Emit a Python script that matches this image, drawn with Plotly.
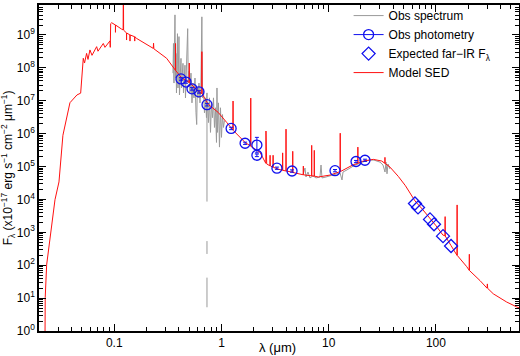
import plotly.graph_objects as go

# ---------------- data ----------------
model_wav = [0.0226, 0.0227, 0.0234, 0.0257, 0.0280, 0.0305, 0.0332, 0.0386, 0.0449, 0.0486,
             0.0502, 0.0514, 0.0528, 0.0552, 0.0569, 0.0593, 0.0620, 0.0685, 0.0705, 0.0790,
             0.0819, 0.0912, 0.0918, 0.0922, 0.0926, 0.0946, 0.1000, 0.1025, 0.1026, 0.1028,
             0.117, 0.1210, 0.1216, 0.1222, 0.1300, 0.1302, 0.1305, 0.140, 0.1402, 0.1405,
             0.155, 0.1552, 0.1555, 0.162, 0.231, 0.2325, 0.234, 0.308, 0.3720, 0.3727,
             0.3734, 0.426, 0.5000, 0.5007, 0.5014, 0.608, 0.655, 0.6563, 0.6576, 0.754,
             0.933, 1.118, 1.275, 1.282, 1.289, 1.66, 1.868, 1.875, 1.882, 2.29,
             2.59, 2.60, 2.61, 2.64, 2.83, 2.84, 2.85, 3.02, 3.03, 3.04,
             3.39, 3.71, 3.72, 3.73, 3.99, 4.00, 4.01, 4.52, 4.61, 4.62,
             4.63, 5.79, 5.80, 5.81, 6.93, 6.94, 6.95, 7.33, 7.34, 7.35,
             8.0, 10.3, 12.78, 12.81, 12.84, 16.9, 18.68, 18.71, 18.74, 21.0,
             26.1, 31.2, 33.45, 33.48, 33.51, 37.3, 44.6, 52.0, 63.8, 75.0,
             88.0, 100.0, 116.0, 121.5, 121.9, 122.3, 138.0, 157.2, 157.7, 158.2,
             194.0, 204.5, 205.0, 205.5, 258.0, 300.0, 302.0, 304.0, 343.0, 457.0,
             567.0, 620.0]
model_flux = [0.76, 10.5, 102, 1000, 9800, 3.4e4, 8.9e5, 8.7e6, 1.5e7, 1.7e7,
              9.8e7, 1.95e8, 1.4e8, 2.75e8, 1.8e8, 3.5e8, 2.4e8, 4.4e8, 3.2e8, 5.5e8,
              4.2e8, 6.6e8, 4.2e8, 6.8e8, 2.2e9, 2.35e9, 2.1e9, 2.0e9, 1.2e9, 2.0e9,
              1.5e9, 1.42e9, 1e11, 1.40e9, 1.15e9, 7e8, 1.15e9, 1.0e9, 6.5e8, 1.0e9,
              8.8e8, 6.5e8, 8.8e8, 7.8e8, 3.9e8, 5.6e8, 3.8e8, 1.95e8, 8.4e7, 5.5e8,
              8.3e7, 4.9e7, 3.6e7, 1.4e8, 3.6e7, 1.95e7, 1.65e7, 3.1e8, 1.65e7, 7.7e6,
              4.4e6, 2.2e6, 1.3e6, 9.8e6, 1.25e6, 5.4e5, 4.2e5, 1.2e7, 4.1e5, 2.7e5,
              1.25e5, 1.2e6, 1.25e5, 1.2e5, 1.05e5, 2.2e5, 1.05e5, 9.5e4, 2.2e5, 9.5e4,
              8.3e4, 7.7e4, 2.6e5, 7.7e4, 7.3e4, 1.37e6, 7.3e4, 6.8e4, 6.6e4, 2.9e5,
              6.6e4, 5.6e4, 1.03e5, 5.6e4, 5.2e4, 4.4e5, 5.2e4, 5.1e4, 3.1e5, 5.1e4,
              4.8e4, 5.5e4, 7.0e4, 1.03e6, 7.0e4, 1.13e5, 1.25e5, 3.9e5, 1.26e5, 1.47e5,
              1.65e5, 1.47e5, 1.25e5, 1.9e5, 1.25e5, 9.6e4, 5.0e4, 2.6e4, 9.0e3, 5.0e3,
              2.7e3, 1.6e3, 830, 780, 3.0e3, 770, 400, 200, 6.8e3, 198,
              90, 70, 215, 69, 34, 20, 27, 19.8, 13.5, 7.6,
              5.4, 4.8]

spec_wav = [0.3528, 0.3566, 0.3605, 0.3644, 0.3683, 0.3723, 0.3763, 0.3804, 0.3845, 0.3887,
            0.3929, 0.3972, 0.4014, 0.4058, 0.4102, 0.4191, 0.4236, 0.4282, 0.4374, 0.4421,
            0.4469, 0.4566, 0.4615, 0.4665, 0.4767, 0.4839, 0.4902, 0.4976, 0.5083, 0.5194,
            0.5307, 0.5422, 0.5540, 0.5661, 0.5784, 0.5872, 0.5948, 0.6038, 0.6169, 0.6302,
            0.642, 0.6563, 0.6648, 0.6793, 0.6941, 0.7091, 0.7246, 0.7324, 0.7324, 0.7324,
            0.7324, 0.7324, 0.7324, 0.7324, 0.7324, 0.7324, 0.7403, 0.7563, 0.7728, 0.7897,
            0.8068, 0.8244, 0.8423, 0.8603, 0.8790, 0.8983, 0.9079, 0.9177, 0.9376, 0.9579,
            0.9788, 1.0, 1.0217, 1.044, 1.0666, 1.0666,
            5.76, 6.01, 6.14, 6.41, 6.69, 7.14, 7.61, 8.29, 8.48, 8.66,
            9.44, 10.28, 11.21, 11.95, 12.75, 13.31, 13.60, 14.82, 15.80, 17.59,
            18.77, 20.45, 22.28, 24.28, 26.46, 28.22, 30.11, 32.10, 33.51, 34.24,
            34.99, 35.75, 37.32]
spec_flux = [6.9e7, 5.5e8, 3.45e7, 1.94e8, 4.07e9, 4.9e7, 2.74e8, 1.73e7, 1.37e8, 1.09e9,
             2.44e7, 1.37e8, 8.9e8, 1.5e7, 6.9e7, 1.94e8, 2.44e7, 6.0e7, 1.37e8, 1.73e7,
             4.9e7, 1.2e8, 1.22e7, 4.0e7, 1.94e8, 1.55e9, 3.45e7, 7.9e7, 1.73e7, 6.9e7,
             8.6e6, 3.45e7, 1.22e7, 4.9e7, 4.3e6, 1.89e6, 2.44e7, 1.22e7, 3.45e7, 8.6e6,
             2.44e7, 3.55e9, 1.22e7, 1.98e7, 4.3e6, 1.22e7, 3.06e6, 1.73e7, 8.6e3, None,
             541, 220, None, 41.9, 5.26, None, 8.6e6, 2.17e6, 1.22e7, 1.09e6,
             8.6e6, 3.06e6, 1.22e7, 1.54e6, 6.1e6, 5.4e5, 2.44e7, 1.09e6, 8.6e6, 3.9e5,
             6.1e6, 7.7e5, 3.8e6, 1.54e6, 2.49e6, None,
             5.6e4, 9.0e4, 4.8e4, 6.8e4, 4.5e4, 5.2e4, 4.5e4, 4.8e4, 1.11e5, 4.5e4,
             4.8e4, 5.2e4, 5.6e4, 6.0e4, 6.4e4, 3.9e4, 6.8e4, 7.9e4, 9.0e4, 1.11e5,
             1.19e5, 1.36e5, 1.46e5, 1.57e5, 1.57e5, 1.46e5, 1.36e5, 1.11e5, 6.8e4, 1.36e5,
             6.0e4, 1.19e5, 8.4e4]

phot_wav = [0.419, 0.467, 0.531, 0.617, 0.733, 1.23, 1.66, 2.14, 2.14, 3.29, 4.55, 11.45, 17.98, 21.8]
phot_flux = [4.6e7, 3.7e7, 2.3e7, 1.86e7, 7.6e6, 1.44e6, 5.1e5, 4.5e5, 2.2e5, 8.9e4, 7.3e4, 7.5e4, 1.42e5, 1.55e5]
phot_err_hi = [4e6, 3e6, 2e6, 1.6e6, 7e5, 1.2e5, 4e4, 3.2e5, 2e4, 7e3, 6e3, 6e3, 1.1e4, 1.2e4]
phot_err_lo = [4e6, 3e6, 2e6, 1.6e6, 7e5, 1.2e5, 4e4, 1.9e5, 2e4, 7e3, 6e3, 6e3, 1.1e4, 1.2e4]

fir_wav = [63.8, 68.1, 88.1, 96.0, 116.5, 138.4]
fir_flux = [7.5e3, 5.7e3, 2.47e3, 1.75e3, 764, 383]

y_tickvals = [1, 10, 100, 1e3, 1e4, 1e5, 1e6, 1e7, 1e8, 1e9]
y_ticktext = ["10<sup>%d</sup>" % i for i in range(10)]
y_minor = [m * d for d in y_tickvals for m in range(2, 10)]

x_title = "\u03bb (\u03bcm)"
y_title = ("F<sub>\u03bb</sub> (x10<sup>\u221217</sup> erg s<sup>\u22121</sup> "
           "cm<sup>\u22122</sup> \u03bcm<sup>\u22121</sup>)")

# ---------------- figure ----------------
FONT = "Liberation Sans, Arial, Helvetica, sans-serif"
BLUE = "#1010ee"
fig = go.Figure()

fig.add_trace(go.Scatter(x=spec_wav, y=spec_flux, mode="lines", name="Obs spectrum",
                         line=dict(color="#9a9a9a", width=1), legendrank=1, connectgaps=False))
fig.add_trace(go.Scatter(x=model_wav, y=model_flux, mode="lines", name="Model SED",
                         line=dict(color="#ff1010", width=1), legendrank=4))
fig.add_trace(go.Scatter(x=phot_wav, y=phot_flux, mode="markers", showlegend=False,
                         marker=dict(symbol="circle-open", size=10, color=BLUE, line=dict(width=1.3)),
                         error_y=dict(type="data", array=phot_err_hi, arrayminus=phot_err_lo,
                                      color=BLUE, thickness=1, width=2)))
fig.add_trace(go.Scatter(x=[None], y=[None], mode="lines+markers", name="Obs photometry",
                         marker=dict(symbol="circle-open", size=10, color=BLUE, line=dict(width=1.3)),
                         line=dict(color=BLUE, width=1), legendrank=2))
fig.add_trace(go.Scatter(x=fir_wav, y=fir_flux, mode="markers", name="Expected far\u2212IR F<sub>\u03bb</sub>",
                         marker=dict(symbol="diamond-open", size=10, color=BLUE, line=dict(width=1.3)),
                         legendrank=3))

axis_common = dict(showline=True, linecolor="black", linewidth=1.5, mirror="ticks",
                   ticks="inside", ticklen=7, tickwidth=1, tickcolor="black",
                   showgrid=False, zeroline=False, automargin=False,
                   tickfont=dict(family=FONT, size=12, color="black"))

fig.update_xaxes(type="log", range=[-1.702, 2.775], dtick=1,
                 minor=dict(dtick="D1", ticks="inside", ticklen=4, tickcolor="black", showgrid=False),
                 **axis_common)
fig.update_yaxes(type="log", range=[0, 9.91], tickmode="array", tickvals=y_tickvals, ticktext=y_ticktext,
                 minor=dict(tickmode="array", tickvals=y_minor, ticks="inside", ticklen=4,
                            tickcolor="black", showgrid=False),
                 **axis_common)

fig.add_annotation(text=x_title, xref="paper", yref="paper", x=0.497, y=-0.05,
                   xanchor="center", yanchor="middle", showarrow=False,
                   font=dict(family=FONT, size=13, color="black"))
fig.add_annotation(text=y_title, xref="paper", yref="paper", x=-0.064, y=0.5,
                   xanchor="center", yanchor="middle", textangle=-90, showarrow=False,
                   font=dict(family=FONT, size=12, color="black"))

fig.update_layout(width=520, height=356, margin=dict(l=39, r=1, t=1, b=25),
                  paper_bgcolor="white", plot_bgcolor="white",
                  font=dict(family=FONT, size=12, color="black"),
                  legend=dict(x=0.645, y=1.012, xanchor="left", yanchor="top", bgcolor="rgba(0,0,0,0)",
                              borderwidth=0, itemwidth=30, traceorder="normal",
                              font=dict(family=FONT, size=12, color="black")),
                  showlegend=True)

fig.write_html("out.html", config={"displayModeBar": False},
               post_script="document.body.style.margin='0px';document.body.style.overflow='hidden';")
